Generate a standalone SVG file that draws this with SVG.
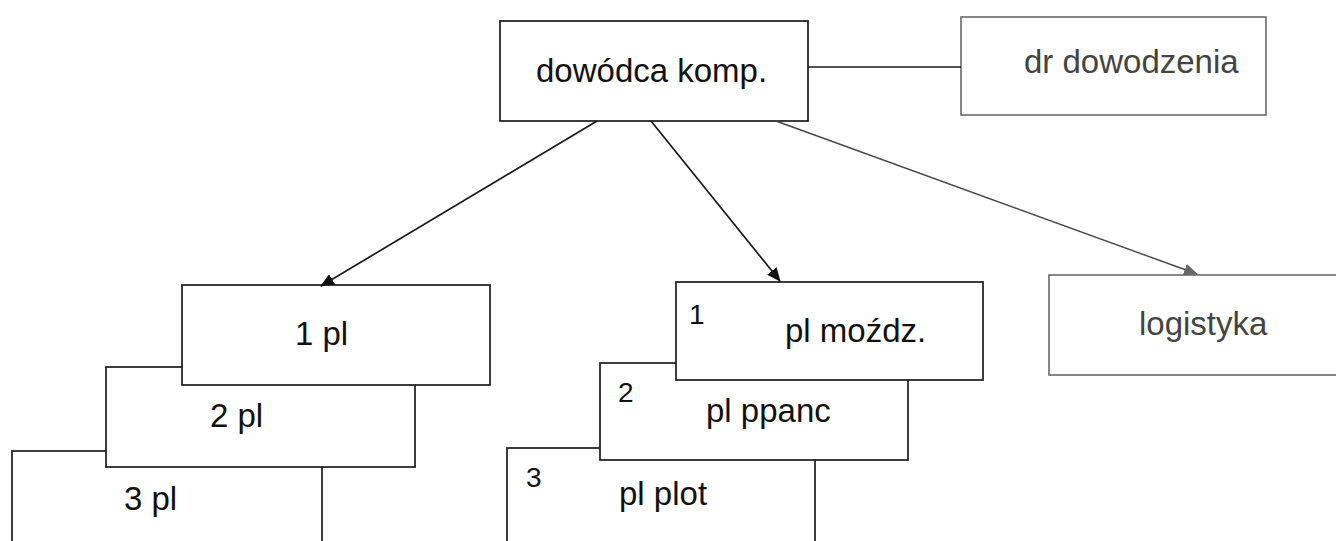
<svg xmlns="http://www.w3.org/2000/svg" width="1336" height="541" viewBox="0 0 1336 541">
<defs>
<style>
.box{fill:#fff;stroke:#1a1a1a;stroke-width:1.7}
.gbox{fill:#fff;stroke:#555;stroke-width:1.4}
.t{font-family:"Liberation Sans",Arial,sans-serif;font-size:33px;fill:#111}
.gt{font-family:"Liberation Sans",Arial,sans-serif;font-size:33px;fill:#444}
.n{font-family:"Liberation Sans",Arial,sans-serif;font-size:28px;fill:#111}
.ln{stroke:#1a1a1a;stroke-width:1.7;fill:none}
.gln{stroke:#444;stroke-width:1.4;fill:none}
</style>
<marker id="ah" markerWidth="14" markerHeight="12" refX="13" refY="6" orient="auto" markerUnits="userSpaceOnUse">
<path d="M0,0 L14,6 L0,12 Z" fill="#111"/>
</marker>
<marker id="ahg" markerWidth="14" markerHeight="12" refX="13" refY="6" orient="auto" markerUnits="userSpaceOnUse">
<path d="M0,0 L14,6 L0,12 Z" fill="#666"/>
</marker>
</defs>
<rect width="1336" height="541" fill="#fff"/>

<g id="node-3pl"><rect class="box" x="12" y="451" width="310" height="110"/><text class="t" x="124" y="510">3 pl</text></g>
<g id="node-2pl"><rect class="box" x="106" y="367" width="309" height="100"/><text class="t" x="210" y="427">2 pl</text></g>
<g id="node-1pl"><rect class="box" x="182" y="285" width="308" height="100"/><text class="t" x="295" y="345">1 pl</text></g>

<g id="node-plplot"><rect class="box" x="507" y="448" width="308" height="110"/><text class="n" x="526" y="487">3</text><text class="t" x="619" y="505">pl plot</text></g>
<g id="node-plppanc"><rect class="box" x="600" y="363" width="308" height="97"/><text class="n" x="618" y="402">2</text><text class="t" x="706" y="422">pl ppanc</text></g>
<g id="node-plmozdz"><rect class="box" x="676" y="282" width="307" height="98"/><text class="n" x="689" y="324">1</text><text class="t" x="785" y="342">pl moźdz.</text></g>

<g id="node-dowodca"><rect class="box" x="500" y="21" width="308" height="100"/><text class="t" x="536" y="82">dowódca komp.</text></g>
<g id="node-drdow"><rect class="gbox" x="961" y="17" width="305" height="98"/><text class="gt" x="1024" y="73">dr dowodzenia</text></g>
<g id="node-logistyka"><rect class="gbox" x="1049" y="275" width="300" height="100"/><text class="gt" x="1139" y="335">logistyka</text></g>

<g id="connectors">
<line class="ln" x1="808" y1="67" x2="961" y2="67"/>
<line class="ln" x1="597" y1="121" x2="321" y2="286" marker-end="url(#ah)"/>
<line class="ln" x1="651" y1="121" x2="780" y2="281" marker-end="url(#ah)"/>
<line class="gln" x1="776" y1="121" x2="1197" y2="274" marker-end="url(#ahg)"/>
</g>
</svg>
